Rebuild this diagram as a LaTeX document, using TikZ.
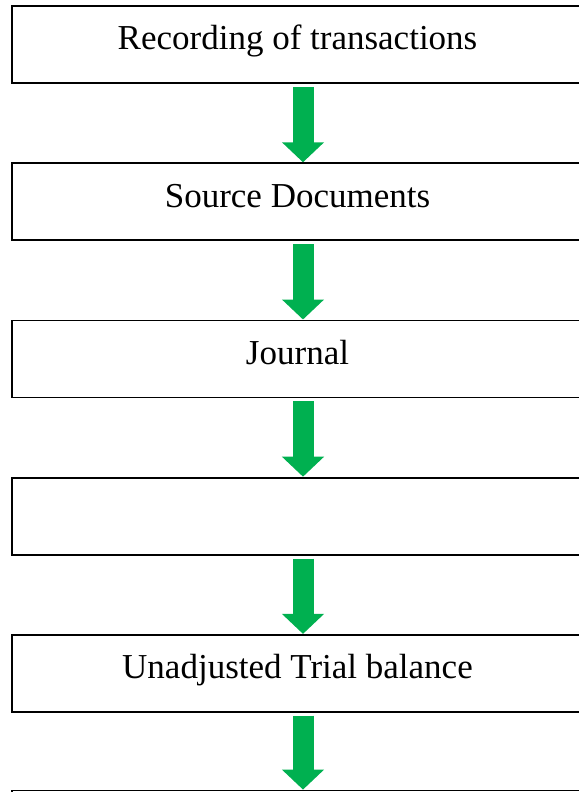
\documentclass[tikz,border=0pt]{standalone}
\usepackage{fontspec}
\setmainfont{Liberation Serif}
\usetikzlibrary{arrows.meta}
\definecolor{flowgreen}{HTML}{00B050}
\tikzset{
    stagebox/.style={draw, line width=1.8pt, inner sep=0pt,
        minimum width=571pt, minimum height=77pt,
        text height=20pt, text depth=9pt,
        font=\fontsize{35}{40}\selectfont},
    flow/.style={color=flowgreen, line width=21pt, shorten <=3pt,
        -{Triangle[width=41pt,length=20pt]}}
}
\begin{document}
\begin{tikzpicture}[x=1pt, y=-1pt]
    \useasboundingbox (0, 0) rectangle (578, 792);

    \node[stagebox] at (297.5, 44.5) (rec) {Recording of transactions};
    \node[stagebox] at (297.5, 201.7) (src) {Source Documents};
    \node[stagebox] at (297.5, 358.9) (jnl) {Journal};
    \node[stagebox] at (297.5, 516.1) (blank) {};
    \node[stagebox] at (297.5, 673.3) (utb) {Unadjusted Trial balance};
    \node[stagebox] at (297.5, 829) (next) {};

    % arrows sit a little right of the text centre
    \path [flow]
        ([xshift=5.5pt]rec.south) edge ([xshift=5.5pt]src.north)
        ([xshift=5.5pt]src.south) edge ([xshift=5.5pt]jnl.north)
        ([xshift=5.5pt]jnl.south) edge ([xshift=5.5pt]blank.north)
        ([xshift=5.5pt]blank.south) edge ([xshift=5.5pt]utb.north)
        ([xshift=5.5pt]utb.south) edge ([xshift=5.5pt]next.north);
\end{tikzpicture}
\end{document}
